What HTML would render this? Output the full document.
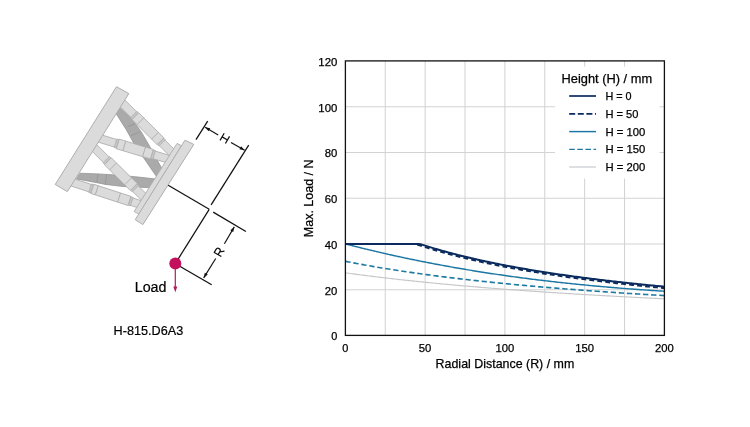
<!DOCTYPE html>
<html><head><meta charset="utf-8"><title>H-815.D6A3 load chart</title>
<style>html,body{margin:0;padding:0;background:#fff;}body{width:750px;height:427px;overflow:hidden;position:relative;font-family:"Liberation Sans",sans-serif;}svg{will-change:transform;}</style></head>
<body>
<svg width="750" height="427" viewBox="0 0 750 427" style="position:absolute;left:0;top:0;font-family:'Liberation Sans',sans-serif">
<rect width="750" height="427" fill="#ffffff"/>
<g stroke="#d3d3d3" stroke-width="1.05" fill="none"><line x1="385.27" y1="60.90" x2="385.27" y2="335.40"/><line x1="425.15" y1="60.90" x2="425.15" y2="335.40"/><line x1="465.02" y1="60.90" x2="465.02" y2="335.40"/><line x1="504.90" y1="60.90" x2="504.90" y2="335.40"/><line x1="544.77" y1="60.90" x2="544.77" y2="335.40"/><line x1="584.65" y1="60.90" x2="584.65" y2="335.40"/><line x1="624.52" y1="60.90" x2="624.52" y2="335.40"/><line x1="345.40" y1="289.65" x2="664.40" y2="289.65"/><line x1="345.40" y1="243.90" x2="664.40" y2="243.90"/><line x1="345.40" y1="198.15" x2="664.40" y2="198.15"/><line x1="345.40" y1="152.40" x2="664.40" y2="152.40"/><line x1="345.40" y1="106.65" x2="664.40" y2="106.65"/></g>
<path d="M345.40 272.83 L347.00 273.05 L348.59 273.27 L350.19 273.49 L351.78 273.70 L353.38 273.92 L354.97 274.13 L356.56 274.34 L358.16 274.56 L359.75 274.76 L361.35 274.97 L362.94 275.18 L364.54 275.38 L366.13 275.59 L367.73 275.79 L369.32 275.99 L370.92 276.19 L372.51 276.39 L374.11 276.58 L375.70 276.78 L377.30 276.97 L378.89 277.17 L380.49 277.36 L382.08 277.55 L383.68 277.74 L385.27 277.93 L386.87 278.11 L388.46 278.30 L390.06 278.48 L391.65 278.66 L393.25 278.85 L394.84 279.03 L396.44 279.21 L398.03 279.39 L399.63 279.56 L401.22 279.74 L402.82 279.91 L404.41 280.09 L406.01 280.26 L407.60 280.43 L409.20 280.60 L410.79 280.77 L412.39 280.94 L413.98 281.11 L415.58 281.28 L417.17 281.44 L418.77 281.61 L420.37 281.77 L421.96 281.93 L423.55 282.09 L425.15 282.25 L426.75 282.41 L428.34 282.57 L429.93 282.73 L431.53 282.89 L433.12 283.04 L434.72 283.20 L436.31 283.35 L437.91 283.51 L439.50 283.66 L441.10 283.81 L442.69 283.96 L444.29 284.11 L445.88 284.26 L447.48 284.41 L449.07 284.55 L450.67 284.70 L452.26 284.84 L453.86 284.99 L455.45 285.13 L457.05 285.28 L458.64 285.42 L460.24 285.56 L461.83 285.70 L463.43 285.84 L465.02 285.98 L466.62 286.12 L468.21 286.25 L469.81 286.39 L471.40 286.53 L473.00 286.66 L474.59 286.79 L476.19 286.93 L477.78 287.06 L479.38 287.19 L480.97 287.32 L482.57 287.46 L484.16 287.59 L485.76 287.71 L487.36 287.84 L488.95 287.97 L490.54 288.10 L492.14 288.22 L493.74 288.35 L495.33 288.48 L496.92 288.60 L498.52 288.72 L500.12 288.85 L501.71 288.97 L503.30 289.09 L504.90 289.21 L506.50 289.33 L508.09 289.45 L509.68 289.57 L511.28 289.69 L512.88 289.81 L514.47 289.93 L516.06 290.04 L517.66 290.16 L519.25 290.28 L520.85 290.39 L522.44 290.51 L524.04 290.62 L525.63 290.73 L527.23 290.85 L528.83 290.96 L530.42 291.07 L532.01 291.18 L533.61 291.29 L535.20 291.40 L536.80 291.51 L538.39 291.62 L539.99 291.73 L541.59 291.84 L543.18 291.94 L544.77 292.05 L546.37 292.16 L547.96 292.26 L549.56 292.37 L551.15 292.47 L552.75 292.58 L554.35 292.68 L555.94 292.78 L557.53 292.89 L559.13 292.99 L560.72 293.09 L562.32 293.19 L563.91 293.29 L565.51 293.39 L567.11 293.49 L568.70 293.59 L570.29 293.69 L571.89 293.79 L573.49 293.89 L575.08 293.98 L576.67 294.08 L578.27 294.18 L579.87 294.27 L581.46 294.37 L583.05 294.46 L584.65 294.56 L586.25 294.65 L587.84 294.75 L589.43 294.84 L591.03 294.93 L592.62 295.03 L594.22 295.12 L595.81 295.21 L597.41 295.30 L599.00 295.39 L600.60 295.48 L602.19 295.57 L603.79 295.66 L605.38 295.75 L606.98 295.84 L608.58 295.93 L610.17 296.02 L611.76 296.11 L613.36 296.19 L614.95 296.28 L616.55 296.37 L618.14 296.45 L619.74 296.54 L621.34 296.62 L622.93 296.71 L624.52 296.79 L626.12 296.88 L627.71 296.96 L629.31 297.05 L630.90 297.13 L632.50 297.21 L634.10 297.29 L635.69 297.38 L637.28 297.46 L638.88 297.54 L640.47 297.62 L642.07 297.70 L643.66 297.78 L645.26 297.86 L646.86 297.94 L648.45 298.02 L650.04 298.10 L651.64 298.18 L653.23 298.26 L654.83 298.34 L656.42 298.41 L658.02 298.49 L659.62 298.57 L661.21 298.64 L662.80 298.72 L664.40 298.80" fill="none" stroke="#c4c6c9" stroke-width="1.15"/>
<path d="M345.40 261.28 L347.00 261.60 L348.59 261.92 L350.19 262.23 L351.78 262.54 L353.38 262.85 L354.97 263.15 L356.56 263.45 L358.16 263.75 L359.75 264.05 L361.35 264.35 L362.94 264.64 L364.54 264.93 L366.13 265.22 L367.73 265.50 L369.32 265.78 L370.92 266.06 L372.51 266.34 L374.11 266.62 L375.70 266.89 L377.30 267.17 L378.89 267.44 L380.49 267.70 L382.08 267.97 L383.68 268.23 L385.27 268.49 L386.87 268.75 L388.46 269.01 L390.06 269.26 L391.65 269.52 L393.25 269.77 L394.84 270.02 L396.44 270.27 L398.03 270.51 L399.63 270.76 L401.22 271.00 L402.82 271.24 L404.41 271.48 L406.01 271.71 L407.60 271.95 L409.20 272.18 L410.79 272.41 L412.39 272.64 L413.98 272.87 L415.58 273.10 L417.17 273.32 L418.77 273.55 L420.37 273.77 L421.96 273.99 L423.55 274.21 L425.15 274.42 L426.75 274.64 L428.34 274.85 L429.93 275.07 L431.53 275.28 L433.12 275.49 L434.72 275.69 L436.31 275.90 L437.91 276.11 L439.50 276.31 L441.10 276.51 L442.69 276.71 L444.29 276.91 L445.88 277.11 L447.48 277.31 L449.07 277.50 L450.67 277.70 L452.26 277.89 L453.86 278.08 L455.45 278.27 L457.05 278.46 L458.64 278.65 L460.24 278.84 L461.83 279.02 L463.43 279.21 L465.02 279.39 L466.62 279.57 L468.21 279.75 L469.81 279.93 L471.40 280.11 L473.00 280.29 L474.59 280.46 L476.19 280.64 L477.78 280.81 L479.38 280.99 L480.97 281.16 L482.57 281.33 L484.16 281.50 L485.76 281.67 L487.36 281.83 L488.95 282.00 L490.54 282.16 L492.14 282.33 L493.74 282.49 L495.33 282.65 L496.92 282.82 L498.52 282.98 L500.12 283.14 L501.71 283.29 L503.30 283.45 L504.90 283.61 L506.50 283.76 L508.09 283.92 L509.68 284.07 L511.28 284.22 L512.88 284.38 L514.47 284.53 L516.06 284.68 L517.66 284.83 L519.25 284.97 L520.85 285.12 L522.44 285.27 L524.04 285.41 L525.63 285.56 L527.23 285.70 L528.83 285.85 L530.42 285.99 L532.01 286.13 L533.61 286.27 L535.20 286.41 L536.80 286.55 L538.39 286.69 L539.99 286.83 L541.59 286.96 L543.18 287.10 L544.77 287.23 L546.37 287.37 L547.96 287.50 L549.56 287.64 L551.15 287.77 L552.75 287.90 L554.35 288.03 L555.94 288.16 L557.53 288.29 L559.13 288.42 L560.72 288.55 L562.32 288.67 L563.91 288.80 L565.51 288.93 L567.11 289.05 L568.70 289.18 L570.29 289.30 L571.89 289.42 L573.49 289.55 L575.08 289.67 L576.67 289.79 L578.27 289.91 L579.87 290.03 L581.46 290.15 L583.05 290.27 L584.65 290.39 L586.25 290.50 L587.84 290.62 L589.43 290.74 L591.03 290.85 L592.62 290.97 L594.22 291.08 L595.81 291.20 L597.41 291.31 L599.00 291.42 L600.60 291.53 L602.19 291.65 L603.79 291.76 L605.38 291.87 L606.98 291.98 L608.58 292.09 L610.17 292.20 L611.76 292.30 L613.36 292.41 L614.95 292.52 L616.55 292.63 L618.14 292.73 L619.74 292.84 L621.34 292.94 L622.93 293.05 L624.52 293.15 L626.12 293.26 L627.71 293.36 L629.31 293.46 L630.90 293.56 L632.50 293.66 L634.10 293.77 L635.69 293.87 L637.28 293.97 L638.88 294.07 L640.47 294.16 L642.07 294.26 L643.66 294.36 L645.26 294.46 L646.86 294.56 L648.45 294.65 L650.04 294.75 L651.64 294.85 L653.23 294.94 L654.83 295.04 L656.42 295.13 L658.02 295.22 L659.62 295.32 L661.21 295.41 L662.80 295.50 L664.40 295.60" fill="none" stroke="#1f7aa3" stroke-width="1.6" stroke-dasharray="5.3 2.8"/>
<path d="M345.40 243.90 L347.00 244.31 L348.59 244.73 L350.19 245.14 L351.78 245.55 L353.38 245.95 L354.97 246.36 L356.56 246.76 L358.16 247.16 L359.75 247.55 L361.35 247.95 L362.94 248.34 L364.54 248.73 L366.13 249.12 L367.73 249.51 L369.32 249.89 L370.92 250.28 L372.51 250.66 L374.11 251.04 L375.70 251.41 L377.30 251.79 L378.89 252.16 L380.49 252.53 L382.08 252.90 L383.68 253.26 L385.27 253.63 L386.87 253.99 L388.46 254.35 L390.06 254.71 L391.65 255.06 L393.25 255.42 L394.84 255.77 L396.44 256.12 L398.03 256.46 L399.63 256.81 L401.22 257.15 L402.82 257.50 L404.41 257.84 L406.01 258.17 L407.60 258.51 L409.20 258.84 L410.79 259.18 L412.39 259.51 L413.98 259.83 L415.58 260.16 L417.17 260.48 L418.77 260.81 L420.37 261.13 L421.96 261.45 L423.55 261.76 L425.15 262.08 L426.75 262.39 L428.34 262.70 L429.93 263.01 L431.53 263.32 L433.12 263.62 L434.72 263.93 L436.31 264.23 L437.91 264.53 L439.50 264.82 L441.10 265.12 L442.69 265.41 L444.29 265.71 L445.88 266.00 L447.48 266.29 L449.07 266.57 L450.67 266.86 L452.26 267.14 L453.86 267.42 L455.45 267.70 L457.05 267.98 L458.64 268.26 L460.24 268.53 L461.83 268.80 L463.43 269.08 L465.02 269.34 L466.62 269.61 L468.21 269.88 L469.81 270.14 L471.40 270.40 L473.00 270.67 L474.59 270.92 L476.19 271.18 L477.78 271.44 L479.38 271.69 L480.97 271.94 L482.57 272.19 L484.16 272.44 L485.76 272.69 L487.36 272.93 L488.95 273.18 L490.54 273.42 L492.14 273.66 L493.74 273.90 L495.33 274.14 L496.92 274.37 L498.52 274.61 L500.12 274.84 L501.71 275.07 L503.30 275.30 L504.90 275.53 L506.50 275.75 L508.09 275.98 L509.68 276.20 L511.28 276.42 L512.88 276.64 L514.47 276.86 L516.06 277.07 L517.66 277.29 L519.25 277.50 L520.85 277.71 L522.44 277.92 L524.04 278.13 L525.63 278.34 L527.23 278.55 L528.83 278.75 L530.42 278.95 L532.01 279.16 L533.61 279.36 L535.20 279.55 L536.80 279.75 L538.39 279.95 L539.99 280.14 L541.59 280.33 L543.18 280.52 L544.77 280.71 L546.37 280.90 L547.96 281.09 L549.56 281.27 L551.15 281.46 L552.75 281.64 L554.35 281.82 L555.94 282.00 L557.53 282.18 L559.13 282.35 L560.72 282.53 L562.32 282.70 L563.91 282.88 L565.51 283.05 L567.11 283.22 L568.70 283.39 L570.29 283.55 L571.89 283.72 L573.49 283.88 L575.08 284.05 L576.67 284.21 L578.27 284.37 L579.87 284.53 L581.46 284.69 L583.05 284.84 L584.65 285.00 L586.25 285.15 L587.84 285.31 L589.43 285.46 L591.03 285.61 L592.62 285.76 L594.22 285.91 L595.81 286.05 L597.41 286.20 L599.00 286.34 L600.60 286.48 L602.19 286.62 L603.79 286.77 L605.38 286.90 L606.98 287.04 L608.58 287.18 L610.17 287.31 L611.76 287.45 L613.36 287.58 L614.95 287.71 L616.55 287.84 L618.14 287.97 L619.74 288.10 L621.34 288.23 L622.93 288.36 L624.52 288.48 L626.12 288.60 L627.71 288.73 L629.31 288.85 L630.90 288.97 L632.50 289.09 L634.10 289.21 L635.69 289.32 L637.28 289.44 L638.88 289.55 L640.47 289.67 L642.07 289.78 L643.66 289.89 L645.26 290.00 L646.86 290.11 L648.45 290.22 L650.04 290.33 L651.64 290.44 L653.23 290.54 L654.83 290.64 L656.42 290.75 L658.02 290.85 L659.62 290.95 L661.21 291.05 L662.80 291.15 L664.40 291.25" fill="none" stroke="#1b76a4" stroke-width="1.45"/>
<path d="M345.40 243.90 L347.00 243.90 L348.59 243.90 L350.19 243.90 L351.78 243.90 L353.38 243.90 L354.97 243.90 L356.56 243.90 L358.16 243.90 L359.75 243.90 L361.35 243.90 L362.94 243.90 L364.54 243.90 L366.13 243.90 L367.73 243.90 L369.32 243.90 L370.92 243.90 L372.51 243.90 L374.11 243.90 L375.70 243.90 L377.30 243.90 L378.89 243.90 L380.49 243.90 L382.08 243.90 L383.68 243.90 L385.27 243.90 L386.87 243.90 L388.46 243.90 L390.06 243.90 L391.65 243.90 L393.25 243.90 L394.84 243.90 L396.44 243.90 L398.03 243.90 L399.63 243.90 L401.22 243.90 L402.82 243.90 L404.41 243.90 L406.01 243.90 L407.60 243.90 L409.20 243.90 L410.79 243.90 L412.39 243.90 L413.98 243.90 L415.58 243.97 L417.17 244.50 L418.77 245.03 L420.37 245.55 L421.96 246.07 L423.55 246.58 L425.15 247.09 L426.75 247.59 L428.34 248.08 L429.93 248.57 L431.53 249.05 L433.12 249.53 L434.72 250.01 L436.31 250.47 L437.91 250.94 L439.50 251.40 L441.10 251.85 L442.69 252.30 L444.29 252.74 L445.88 253.18 L447.48 253.61 L449.07 254.04 L450.67 254.47 L452.26 254.89 L453.86 255.31 L455.45 255.72 L457.05 256.13 L458.64 256.53 L460.24 256.94 L461.83 257.33 L463.43 257.72 L465.02 258.11 L466.62 258.50 L468.21 258.88 L469.81 259.26 L471.40 259.63 L473.00 260.00 L474.59 260.37 L476.19 260.73 L477.78 261.09 L479.38 261.45 L480.97 261.80 L482.57 262.15 L484.16 262.50 L485.76 262.84 L487.36 263.18 L488.95 263.52 L490.54 263.85 L492.14 264.18 L493.74 264.51 L495.33 264.84 L496.92 265.16 L498.52 265.48 L500.12 265.79 L501.71 266.11 L503.30 266.42 L504.90 266.73 L506.50 267.03 L508.09 267.33 L509.68 267.63 L511.28 267.93 L512.88 268.23 L514.47 268.52 L516.06 268.81 L517.66 269.10 L519.25 269.38 L520.85 269.67 L522.44 269.95 L524.04 270.22 L525.63 270.50 L527.23 270.77 L528.83 271.04 L530.42 271.31 L532.01 271.58 L533.61 271.85 L535.20 272.11 L536.80 272.37 L538.39 272.63 L539.99 272.88 L541.59 273.14 L543.18 273.39 L544.77 273.64 L546.37 273.89 L547.96 274.13 L549.56 274.38 L551.15 274.62 L552.75 274.86 L554.35 275.10 L555.94 275.34 L557.53 275.57 L559.13 275.81 L560.72 276.04 L562.32 276.27 L563.91 276.50 L565.51 276.72 L567.11 276.95 L568.70 277.17 L570.29 277.39 L571.89 277.61 L573.49 277.83 L575.08 278.05 L576.67 278.26 L578.27 278.47 L579.87 278.69 L581.46 278.90 L583.05 279.11 L584.65 279.31 L586.25 279.52 L587.84 279.72 L589.43 279.93 L591.03 280.13 L592.62 280.33 L594.22 280.53 L595.81 280.72 L597.41 280.92 L599.00 281.11 L600.60 281.31 L602.19 281.50 L603.79 281.69 L605.38 281.88 L606.98 282.07 L608.58 282.25 L610.17 282.44 L611.76 282.62 L613.36 282.80 L614.95 282.99 L616.55 283.17 L618.14 283.35 L619.74 283.52 L621.34 283.70 L622.93 283.88 L624.52 284.05 L626.12 284.22 L627.71 284.40 L629.31 284.57 L630.90 284.74 L632.50 284.91 L634.10 285.07 L635.69 285.24 L637.28 285.41 L638.88 285.57 L640.47 285.73 L642.07 285.90 L643.66 286.06 L645.26 286.22 L646.86 286.38 L648.45 286.54 L650.04 286.69 L651.64 286.85 L653.23 287.00 L654.83 287.16 L656.42 287.31 L658.02 287.47 L659.62 287.62 L661.21 287.77 L662.80 287.92 L664.40 288.07" fill="none" stroke="#0b2b5e" stroke-width="2.0" stroke-dasharray="4.8 3.2"/>
<path d="M345.40 243.90 L347.00 243.90 L348.59 243.90 L350.19 243.90 L351.78 243.90 L353.38 243.90 L354.97 243.90 L356.56 243.90 L358.16 243.90 L359.75 243.90 L361.35 243.90 L362.94 243.90 L364.54 243.90 L366.13 243.90 L367.73 243.90 L369.32 243.90 L370.92 243.90 L372.51 243.90 L374.11 243.90 L375.70 243.90 L377.30 243.90 L378.89 243.90 L380.49 243.90 L382.08 243.90 L383.68 243.90 L385.27 243.90 L386.87 243.90 L388.46 243.90 L390.06 243.90 L391.65 243.90 L393.25 243.90 L394.84 243.90 L396.44 243.90 L398.03 243.90 L399.63 243.90 L401.22 243.90 L402.82 243.90 L404.41 243.90 L406.01 243.90 L407.60 243.90 L409.20 243.90 L410.79 243.90 L412.39 243.90 L413.98 243.90 L415.58 243.90 L417.17 243.90 L418.77 243.90 L420.37 244.13 L421.96 244.65 L423.55 245.16 L425.15 245.67 L426.75 246.17 L428.34 246.66 L429.93 247.15 L431.53 247.64 L433.12 248.11 L434.72 248.59 L436.31 249.06 L437.91 249.52 L439.50 249.98 L441.10 250.43 L442.69 250.88 L444.29 251.32 L445.88 251.76 L447.48 252.20 L449.07 252.63 L450.67 253.05 L452.26 253.47 L453.86 253.89 L455.45 254.30 L457.05 254.71 L458.64 255.12 L460.24 255.52 L461.83 255.91 L463.43 256.31 L465.02 256.70 L466.62 257.08 L468.21 257.46 L469.81 257.84 L471.40 258.21 L473.00 258.58 L474.59 258.95 L476.19 259.31 L477.78 259.67 L479.38 260.03 L480.97 260.38 L482.57 260.73 L484.16 261.08 L485.76 261.42 L487.36 261.76 L488.95 262.10 L490.54 262.43 L492.14 262.76 L493.74 263.09 L495.33 263.42 L496.92 263.74 L498.52 264.06 L500.12 264.38 L501.71 264.69 L503.30 265.00 L504.90 265.31 L506.50 265.61 L508.09 265.92 L509.68 266.22 L511.28 266.51 L512.88 266.81 L514.47 267.10 L516.06 267.39 L517.66 267.68 L519.25 267.96 L520.85 268.25 L522.44 268.53 L524.04 268.81 L525.63 269.08 L527.23 269.36 L528.83 269.63 L530.42 269.90 L532.01 270.16 L533.61 270.43 L535.20 270.69 L536.80 270.95 L538.39 271.21 L539.99 271.47 L541.59 271.72 L543.18 271.97 L544.77 272.22 L546.37 272.47 L547.96 272.72 L549.56 272.96 L551.15 273.20 L552.75 273.44 L554.35 273.68 L555.94 273.92 L557.53 274.16 L559.13 274.39 L560.72 274.62 L562.32 274.85 L563.91 275.08 L565.51 275.30 L567.11 275.53 L568.70 275.75 L570.29 275.97 L571.89 276.19 L573.49 276.41 L575.08 276.63 L576.67 276.84 L578.27 277.06 L579.87 277.27 L581.46 277.48 L583.05 277.69 L584.65 277.89 L586.25 278.10 L587.84 278.30 L589.43 278.51 L591.03 278.71 L592.62 278.91 L594.22 279.11 L595.81 279.30 L597.41 279.50 L599.00 279.69 L600.60 279.89 L602.19 280.08 L603.79 280.27 L605.38 280.46 L606.98 280.65 L608.58 280.83 L610.17 281.02 L611.76 281.20 L613.36 281.39 L614.95 281.57 L616.55 281.75 L618.14 281.93 L619.74 282.10 L621.34 282.28 L622.93 282.46 L624.52 282.63 L626.12 282.81 L627.71 282.98 L629.31 283.15 L630.90 283.32 L632.50 283.49 L634.10 283.65 L635.69 283.82 L637.28 283.99 L638.88 284.15 L640.47 284.32 L642.07 284.48 L643.66 284.64 L645.26 284.80 L646.86 284.96 L648.45 285.12 L650.04 285.27 L651.64 285.43 L653.23 285.59 L654.83 285.74 L656.42 285.89 L658.02 286.05 L659.62 286.20 L661.21 286.35 L662.80 286.50 L664.40 286.65" fill="none" stroke="#0b2b5e" stroke-width="2.0" stroke-linejoin="round"/>
<rect x="555" y="66.5" width="104.5" height="112" fill="#ffffff"/>
<line x1="569.2" y1="96.0" x2="596" y2="96.0" stroke="#0b2b5e" stroke-width="1.7"/>
<line x1="569.2" y1="113.9" x2="596" y2="113.9" stroke="#0b2b5e" stroke-width="1.8" stroke-dasharray="6 2.6"/>
<line x1="569.2" y1="131.6" x2="596" y2="131.6" stroke="#1b76a4" stroke-width="1.45"/>
<line x1="569.2" y1="149.3" x2="596" y2="149.3" stroke="#1f7aa3" stroke-width="1.25" stroke-dasharray="5.6 2.5"/>
<line x1="569.2" y1="167.0" x2="596" y2="167.0" stroke="#bcbfc5" stroke-width="1.0"/>
<g fill="#000" stroke="#000" stroke-width="0.25">
<text x="561.6" y="82.7" font-size="13.0" text-anchor="start" textLength="90.5" lengthAdjust="spacingAndGlyphs" >Height (H) / mm</text>
<text x="605.4" y="100.0" font-size="11.2" text-anchor="start" textLength="26.2" lengthAdjust="spacingAndGlyphs" >H = 0</text>
<text x="605.4" y="117.9" font-size="11.2" text-anchor="start" textLength="33.0" lengthAdjust="spacingAndGlyphs" >H = 50</text>
<text x="605.4" y="135.6" font-size="11.2" text-anchor="start" textLength="39.8" lengthAdjust="spacingAndGlyphs" >H = 100</text>
<text x="605.4" y="153.3" font-size="11.2" text-anchor="start" textLength="39.8" lengthAdjust="spacingAndGlyphs" >H = 150</text>
<text x="605.4" y="171.0" font-size="11.2" text-anchor="start" textLength="39.8" lengthAdjust="spacingAndGlyphs" >H = 200</text>
<text x="331.2" y="340.3" font-size="11.2" text-anchor="start" textLength="6.1" lengthAdjust="spacingAndGlyphs" >0</text>
<text x="324.7" y="294.5" font-size="11.2" text-anchor="start" textLength="12.6" lengthAdjust="spacingAndGlyphs" >20</text>
<text x="324.7" y="248.8" font-size="11.2" text-anchor="start" textLength="12.6" lengthAdjust="spacingAndGlyphs" >40</text>
<text x="324.7" y="203.0" font-size="11.2" text-anchor="start" textLength="12.6" lengthAdjust="spacingAndGlyphs" >60</text>
<text x="324.7" y="157.3" font-size="11.2" text-anchor="start" textLength="12.6" lengthAdjust="spacingAndGlyphs" >80</text>
<text x="318.3" y="111.5" font-size="11.2" text-anchor="start" textLength="19.0" lengthAdjust="spacingAndGlyphs" >100</text>
<text x="318.3" y="65.8" font-size="11.2" text-anchor="start" textLength="19.0" lengthAdjust="spacingAndGlyphs" >120</text>
<text x="342.3" y="352.3" font-size="11.2" text-anchor="start" textLength="6.1" lengthAdjust="spacingAndGlyphs" >0</text>
<text x="418.8" y="352.3" font-size="11.2" text-anchor="start" textLength="12.6" lengthAdjust="spacingAndGlyphs" >50</text>
<text x="495.5" y="352.3" font-size="11.2" text-anchor="start" textLength="18.8" lengthAdjust="spacingAndGlyphs" >100</text>
<text x="575.2" y="352.3" font-size="11.2" text-anchor="start" textLength="18.8" lengthAdjust="spacingAndGlyphs" >150</text>
<text x="655.0" y="352.3" font-size="11.2" text-anchor="start" textLength="18.8" lengthAdjust="spacingAndGlyphs" >200</text>
<text x="435.6" y="368.0" font-size="13.0" text-anchor="start" textLength="138.7" lengthAdjust="spacingAndGlyphs" >Radial Distance (R) / mm</text>
<text transform="translate(313.4,237.2) rotate(-90)" font-size="13.0" textLength="77.7" lengthAdjust="spacingAndGlyphs">Max. Load / N</text>
</g>
<rect x="345.40" y="60.90" width="319.00" height="274.50" fill="none" stroke="#111" stroke-width="1.3"/>
<g>
<polygon points="120.50,108.00 131.50,118.50 141.00,131.50 149.50,146.00 163.50,171.50 157.50,178.00 144.10,158.60 133.10,142.00 126.10,129.40 116.00,113.50" fill="#aaaaaa" stroke="#969696" stroke-width="0.8" stroke-linejoin="round" />
<g stroke="#969696" stroke-width="0.9"><line x1="127.5" y1="126.8" x2="135.2" y2="123.7"/><line x1="131.0" y1="135.7" x2="139.5" y2="132.2"/></g>
<polygon points="80.00,173.20 98.00,173.90 114.90,174.90 135.90,176.80 156.00,179.00 152.00,187.80 123.30,186.50 105.40,184.40 96.90,182.70 76.50,178.90" fill="#aaaaaa" stroke="#969696" stroke-width="0.8" stroke-linejoin="round" />
<g stroke="#969696" stroke-width="0.9"><line x1="98.0" y1="173.9" x2="96.9" y2="182.7"/><line x1="106.5" y1="174.4" x2="105.4" y2="184.4"/></g>
<g transform="translate(101.10,138.90) rotate(16.76)" stroke="#aeaeae" stroke-width="0.8" fill="#dbdbdb"><rect x="-3" y="-3.95" width="73.99" height="7.90"/><rect x="15.00" y="-4.45" width="2.40" height="8.90" fill="#c6c6c6" stroke-width="0.7"/><rect x="53.03" y="-4.45" width="2.40" height="8.90" fill="#c6c6c6" stroke-width="0.7"/><rect x="17.40" y="-5.00" width="35.62" height="10.00"/><line x1="24.17" y1="-5.00" x2="24.17" y2="5.00" stroke-width="0.9"/><line x1="44.84" y1="-5.00" x2="44.84" y2="5.00" stroke-width="0.9"/></g>
<g transform="translate(123.30,104.10) rotate(44.94)" stroke="#aeaeae" stroke-width="0.8" fill="#dbdbdb"><rect x="-3" y="-4.00" width="71.69" height="8.00"/><rect x="14.68" y="-4.50" width="2.40" height="9.00" fill="#c6c6c6" stroke-width="0.7"/><rect x="52.55" y="-4.50" width="2.40" height="9.00" fill="#c6c6c6" stroke-width="0.7"/><rect x="17.08" y="-4.80" width="35.47" height="9.60"/><line x1="24.17" y1="-4.80" x2="24.17" y2="4.80" stroke-width="0.9"/><line x1="44.75" y1="-4.80" x2="44.75" y2="4.80" stroke-width="0.9"/></g>
<g transform="translate(95.10,148.70) rotate(44.69)" stroke="#aeaeae" stroke-width="0.8" fill="#dbdbdb"><rect x="-3" y="-4.00" width="72.40" height="8.00"/><rect x="15.53" y="-4.50" width="2.40" height="9.00" fill="#c6c6c6" stroke-width="0.7"/><rect x="54.45" y="-4.50" width="2.40" height="9.00" fill="#c6c6c6" stroke-width="0.7"/><rect x="17.93" y="-4.90" width="36.52" height="9.80"/><line x1="25.23" y1="-4.90" x2="25.23" y2="4.90" stroke-width="0.9"/><line x1="46.41" y1="-4.90" x2="46.41" y2="4.90" stroke-width="0.9"/></g>
<g transform="translate(73.40,182.70) rotate(18.01)" stroke="#aeaeae" stroke-width="0.8" fill="#dbdbdb"><rect x="-3" y="-3.90" width="74.56" height="7.80"/><rect x="17.48" y="-4.40" width="2.40" height="8.80" fill="#c6c6c6" stroke-width="0.7"/><rect x="58.96" y="-4.40" width="2.40" height="8.80" fill="#c6c6c6" stroke-width="0.7"/><rect x="19.88" y="-4.80" width="39.08" height="9.60"/><line x1="24.57" y1="-4.80" x2="24.57" y2="4.80" stroke-width="0.9"/><line x1="48.02" y1="-4.80" x2="48.02" y2="4.80" stroke-width="0.9"/></g>
<polygon points="116.50,86.70 128.80,93.60 67.40,191.60 55.20,184.50" fill="#dbdbdb" stroke="#aeaeae" stroke-width="1.0" stroke-linejoin="round" />
<polygon points="177.00,143.40 181.50,145.70 138.90,214.00 134.10,211.60" fill="#dbdbdb" stroke="#aeaeae" stroke-width="0.9" stroke-linejoin="round" />
<polygon points="185.00,140.20 193.80,144.40 142.90,224.60 135.20,219.70" fill="#dbdbdb" stroke="#aeaeae" stroke-width="1.0" stroke-linejoin="round" />
</g>
<g stroke="#111" stroke-width="1.25" fill="none" stroke-linecap="butt">
<line x1="168.2" y1="185.2" x2="209.2" y2="209.3"/>
<line x1="175.3" y1="263.6" x2="209.2" y2="209.3"/>
<line x1="211.1" y1="204.8" x2="248.7" y2="145.2"/>
<line x1="196.0" y1="139.6" x2="207.7" y2="121.1"/>
<line x1="213.2" y1="212.1" x2="245.9" y2="231.5"/>
<line x1="178.0" y1="265.2" x2="211.7" y2="284.8"/>
</g>
<g stroke="#111" stroke-width="1.15" fill="none">
<line x1="205.1" y1="127.2" x2="218.2" y2="134.9"/>
<line x1="231.0" y1="142.4" x2="244.6" y2="150.2"/>
<line x1="234.3" y1="226.9" x2="224.4" y2="243.7"/>
<line x1="215.7" y1="258.5" x2="203.7" y2="277.9"/>
</g>
<polygon transform="translate(205.10,127.20) rotate(210.20)" points="0,0 -5.00,-1.70 -5.00,1.70" fill="#111"/>
<polygon transform="translate(244.60,150.20) rotate(30.20)" points="0,0 -5.00,-1.70 -5.00,1.70" fill="#111"/>
<polygon transform="translate(234.30,226.90) rotate(-59.50)" points="0,0 -5.00,-1.70 -5.00,1.70" fill="#111"/>
<polygon transform="translate(203.70,277.90) rotate(121.00)" points="0,0 -5.00,-1.70 -5.00,1.70" fill="#111"/>
<g transform="translate(224.8,138.4) rotate(30.3)" stroke="#111" stroke-width="1.25" fill="none"><path d="M-3.1 -4.1V4.1M3.1 -4.1V4.1M-3.1 0H3.1"/></g>
<g transform="translate(219.3,252.0) rotate(-59.5)" stroke="#111" stroke-width="1.25" fill="none" stroke-linejoin="round"><path d="M-2.9 4.1V-4.1H0.6A2.2 2.2 0 0 1 0.6 0.3H-2.9M0.4 0.3L3.3 4.1"/></g>
<line x1="175.3" y1="265" x2="175.3" y2="289" stroke="#b5185c" stroke-width="1.2"/>
<polygon points="175.3,292.3 173.3,286.5 177.3,286.5" fill="#b5185c"/>
<circle cx="175.3" cy="263.6" r="6.0" fill="#c4105c"/>
<g fill="#000" stroke="#000" stroke-width="0.2">
<text x="134.7" y="292.4" font-size="14" text-anchor="start" textLength="31.8" lengthAdjust="spacingAndGlyphs" >Load</text>
<text x="113.6" y="334.9" font-size="12.6" text-anchor="start" textLength="69.6" lengthAdjust="spacingAndGlyphs" >H-815.D6A3</text>
</g>
</svg>
</body></html>
